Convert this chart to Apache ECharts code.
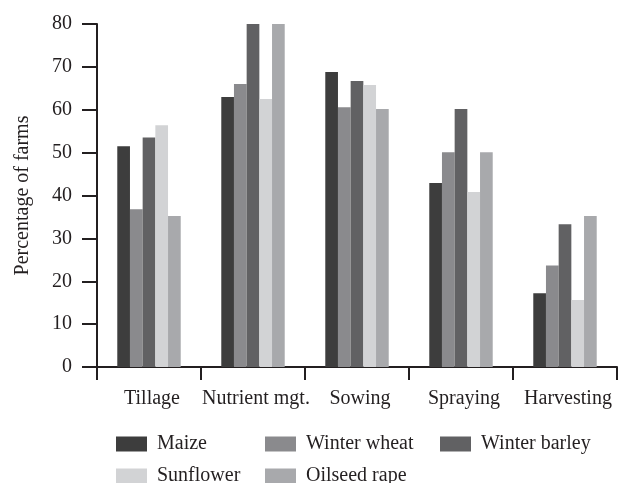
<!DOCTYPE html>
<html>
<head>
<meta charset="utf-8">
<script src="https://cdn.jsdelivr.net/npm/echarts@6/dist/echarts.min.js"></script>
<style>html,body{margin:0;padding:0;background:#fff;}#c{width:619px;height:483px;}</style>
</head>
<body>
<div id="c"></div>
<script>
var categories = ['Tillage', 'Nutrient mgt.', 'Sowing', 'Spraying', 'Harvesting'];
var maize = [51.5, 63.0, 68.8, 42.9, 17.2];
var winterWheat = [36.8, 66.0, 60.6, 50.1, 23.7];
var winterBarley = [53.5, 80.0, 66.7, 60.2, 33.3];
var sunflower = [56.4, 62.5, 65.8, 40.8, 15.6];
var oilseedRape = [35.2, 80.0, 60.2, 50.1, 35.2];
var yTicks = [0, 10, 20, 30, 40, 50, 60, 70, 80];

var FONT = '"Liberation Serif", "Times New Roman", serif';
var AXIS = '#231f20';
var TXT = '#231f20';

function bar(name, data, color) {
  return { name: name, type: 'bar', data: data, barGap: '0%', barCategoryGap: '39%',
    itemStyle: { color: color }, emphasis: { disabled: true } };
}

function legend(left, top, name) {
  return { orient: 'horizontal', left: left, top: top, padding: 0, itemWidth: 31, itemHeight: 15,
    icon: 'rect', selectedMode: false, data: [name],
    textStyle: { fontFamily: FONT, fontSize: 20, color: TXT, padding: [0, 0, 0, 5] } };
}

var chart = echarts.init(document.getElementById('c'), null, { renderer: 'canvas' });
chart.setOption({
  animation: false,
  backgroundColor: '#ffffff',
  textStyle: { fontFamily: FONT },
  grid: { left: 97, right: 2, top: 24, bottom: 116, containLabel: false },
  legend: [
    legend(116, 434, 'Maize'),
    legend(265, 434, 'Winter wheat'),
    legend(440, 434, 'Winter barley'),
    legend(116, 466, 'Sunflower'),
    legend(265, 466, 'Oilseed rape')
  ],
  xAxis: {
    type: 'category', data: categories,
    axisLine: { lineStyle: { color: AXIS, width: 2 } },
    axisTick: { show: true, length: 13, lineStyle: { color: AXIS, width: 2 } },
    axisLabel: { interval: 0, fontFamily: FONT, fontSize: 20, color: TXT, margin: 22, padding: [0, 0, 0, 6] }
  },
  yAxis: {
    type: 'value', min: 0, max: 80, interval: 10,
    name: 'Percentage of farms', nameLocation: 'middle', nameGap: 64,
    nameTextStyle: { fontFamily: FONT, fontSize: 20, color: TXT },
    axisLine: { show: true, lineStyle: { color: AXIS, width: 2 } },
    axisTick: { show: true, length: 15, lineStyle: { color: AXIS, width: 2 } },
    splitLine: { show: false },
    axisLabel: { fontFamily: FONT, fontSize: 20, color: TXT, margin: 25,
      formatter: function (v) { return yTicks.indexOf(v) >= 0 ? String(v) : ''; } }
  },
  series: [
    bar('Maize', maize, '#3d3d3d'),
    bar('Winter wheat', winterWheat, '#8a8a8d'),
    bar('Winter barley', winterBarley, '#616163'),
    bar('Sunflower', sunflower, '#d2d3d5'),
    bar('Oilseed rape', oilseedRape, '#a8a9ac')
  ]
});
</script>
</body>
</html>
